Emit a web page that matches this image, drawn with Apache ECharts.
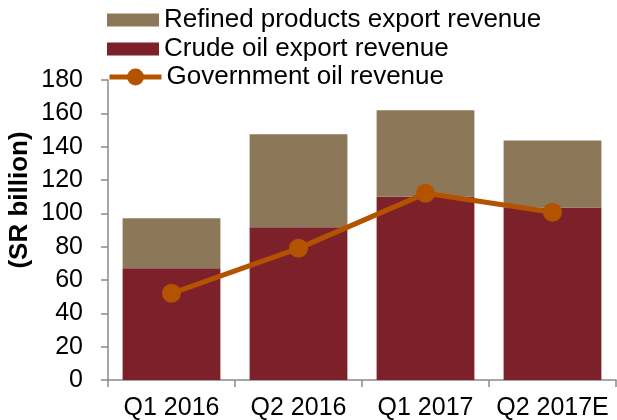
<!DOCTYPE html>
<html>
<head>
<meta charset="utf-8">
<script src="https://cdn.jsdelivr.net/npm/echarts@6/dist/echarts.min.js"></script>
<style>
  html, body { margin: 0; padding: 0; background: #fff; }
  #chart { width: 617px; height: 420px; }
</style>
</head>
<body>
<div id="chart"></div>
<script>
// Quarterly oil revenue, SR billion
const quarters = ['Q1 2016', 'Q2 2016', 'Q1 2017', 'Q2 2017E'];
const crudeExport = [67, 91.6, 110, 103.5];
const refinedExport = [30, 55.8, 51.8, 40.2];
const governmentOil = [52, 79, 112, 100.6];
const yTicks = { min: 0, max: 180, interval: 20 };

const FONT = '"Liberation Sans", Arial, sans-serif';
const AXIS_GREY = '#8a8a8a';
const LINE_COLOR = '#b35300';
const LEGEND_TEXT = { fontFamily: FONT, fontSize: 26, color: '#000', lineHeight: 26 };

const chart = echarts.init(document.getElementById('chart'), null, { renderer: 'canvas' });

chart.setOption({
  animation: false,
  textStyle: { fontFamily: FONT, color: '#000' },
  legend: [
    {
      // bar series keys
      orient: 'vertical',
      left: 107,
      top: 7,
      padding: 0,
      itemWidth: 52,
      itemHeight: 13,
      itemGap: 3,
      textStyle: LEGEND_TEXT,
      data: [
        { name: 'Refined products export revenue', icon: 'rect' },
        { name: 'Crude oil export revenue', icon: 'rect' }
      ]
    },
    {
      // line series key, taller so the marker reads larger
      orient: 'vertical',
      left: 107,
      top: 64,
      padding: 0,
      itemWidth: 52,
      itemHeight: 21,
      textStyle: LEGEND_TEXT,
      data: [{ name: 'Government oil revenue', lineStyle: { width: 5, color: LINE_COLOR } }]
    }
  ],
  grid: { left: 108, right: 1, top: 80, bottom: 40, containLabel: false, outerBoundsMode: 'none' },
  xAxis: {
    type: 'category',
    data: quarters,
    axisLine: { lineStyle: { color: AXIS_GREY, width: 1.5 } },
    axisTick: { show: true, interval: 0, length: 7, lineStyle: { color: AXIS_GREY, width: 1.5 } },
    axisLabel: { interval: 0, hideOverlap: false, fontFamily: FONT, fontSize: 25, color: '#000', margin: 16 }
  },
  yAxis: {
    type: 'value',
    min: yTicks.min,
    max: yTicks.max,
    interval: yTicks.interval,
    name: '(SR billion)',
    nameLocation: 'middle',
    nameMoveOverlap: false,
    nameGap: 75,
    nameRotate: 90,
    nameTextStyle: {
      fontFamily: FONT, fontSize: 26, fontWeight: 'bold', color: '#000',
      padding: [0, 0, 0, 60]
    },
    axisLine: { show: true, lineStyle: { color: AXIS_GREY, width: 1.5 } },
    axisTick: { show: true, length: 7, lineStyle: { color: AXIS_GREY, width: 1.5 } },
    splitLine: { show: false },
    axisLabel: { fontFamily: FONT, fontSize: 25, color: '#000', margin: 25 }
  },
  series: [
    {
      name: 'Crude oil export revenue',
      type: 'bar',
      stack: 'exports',
      data: crudeExport,
      barCategoryGap: '23%',
      itemStyle: { color: '#7c2129' },
      z: 2
    },
    {
      name: 'Refined products export revenue',
      type: 'bar',
      stack: 'exports',
      data: refinedExport,
      barCategoryGap: '23%',
      itemStyle: { color: '#8c7858' },
      z: 2
    },
    {
      name: 'Government oil revenue',
      type: 'line',
      data: governmentOil,
      symbol: 'circle',
      symbolSize: 19,
      lineStyle: { color: LINE_COLOR, width: 5 },
      itemStyle: { color: LINE_COLOR },
      z: 5
    }
  ]
});
</script>
</body>
</html>
